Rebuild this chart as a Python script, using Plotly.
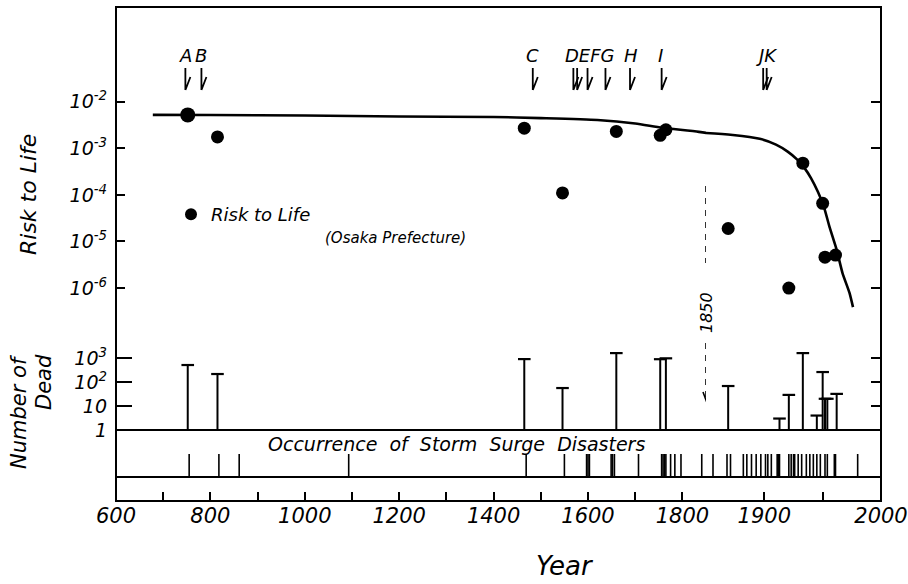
import plotly.graph_objects as go

# ---- data ---------------------------------------------------------------
# Storm-surge disasters with an estimated risk to life (Osaka Prefecture)
risk_years = [752, 815, 1465, 1546, 1660, 1753, 1765, 1869, 1921, 1933, 1950, 1952, 1961]
risk_values = [5.2e-3, 1.75e-3, 2.7e-3, 1.1e-4, 2.3e-3, 1.9e-3, 2.5e-3,
               1.9e-5, 1.0e-6, 4.8e-4, 6.6e-5, 4.6e-6, 5.1e-6]

# Smoothed trend of the risk to life
trend_years = [678, 800, 1000, 1200, 1400, 1500, 1620, 1700, 1757, 1835, 1873,
               1896, 1910, 1920, 1928, 1934, 1940, 1946, 1951, 1956, 1962, 1967, 1973, 1976]
trend_values = [5.2e-3, 5.18e-3, 5.05e-3, 4.8e-3, 4.7e-3, 4.45e-3, 4.05e-3, 3.4e-3,
                2.75e-3, 2.25e-3, 1.93e-3, 1.6e-3, 1.2e-3, 8.5e-4, 5.8e-4, 3.9e-4,
                2.3e-4, 1.15e-4, 5.6e-5, 2.0e-5, 6.6e-6, 2.1e-6, 7.9e-7, 3.9e-7]

# Number of dead per disaster
dead_years = [752, 815, 1465, 1546, 1660, 1753, 1765, 1869, 1913, 1921, 1933,
              1945, 1950, 1952, 1954, 1962]
dead_counts = [510, 215, 900, 56, 1600, 890, 970, 68, 3, 29, 1600, 4, 260, 20, 20, 32]

# Years in which a storm-surge disaster occurred
occurrence_years = [755, 818, 861, 1093, 1469, 1550, 1597, 1600, 1603, 1649, 1652, 1656,
                    1707, 1756, 1759, 1762, 1765, 1775, 1784, 1797, 1841, 1856, 1868,
                    1871, 1882, 1885, 1889, 1893, 1897, 1901, 1903, 1906, 1911, 1912,
                    1913, 1921, 1923, 1925, 1926, 1929, 1932, 1936, 1939, 1942, 1945,
                    1948, 1952, 1954, 1960, 1961, 1980]

# Lettered events marked by arrows at the top
event_years = [747, 781, 1483, 1569, 1577, 1599, 1637, 1689, 1756, 1899, 1902]
event_labels = ["A", "B", "C", "DEFG", "H", "I", "JK"]
event_label_years = [747, 781, 1483, 1604, 1691, 1754, 1902]

# Time axis: compressed before 1850, stretched afterwards
break_year = 1850
early_ticks = list(range(600, 1801, 100))
early_ticktext = [str(t) if t % 200 == 0 else "" for t in early_ticks]
late_ticks = [1850, 1900, 1950, 2000]
late_ticktext = ["", "1900", "", "2000"]

risk_ticks = [1e-2, 1e-3, 1e-4, 1e-5, 1e-6]
risk_ticktext = ["10<sup>-2</sup>", "10<sup>-3</sup>", "10<sup>-4</sup>",
                 "10<sup>-5</sup>", "10<sup>-6</sup>"]
dead_ticks = [1, 10, 100, 1000]
dead_ticktext = ["1", "10", "10<sup>2</sup>", "10<sup>3</sup>"]

# ---- layout geometry ----------------------------------------------------
W, H = 908, 584
ML, MR, MT, MB = 116, 27, 7, 83
PH = H - MT - MB


def py(px):
    """Paper y fraction for a pixel row inside the plot area."""
    return (H - MB - px) / PH


def px_x(px):
    return (px - ML) / (W - ML - MR)


SPLIT = px_x(706)
FONT = "DejaVu Sans"
INK = "black"


def ifont(size):
    return dict(family=FONT, size=size, color=INK, style="italic")


risk_dom = [py(340), 1.0]
dead_dom = [py(430), py(340)]
occ_dom = [py(477), py(454)]

fig = go.Figure()

cols = [
    # (occurrence x/y, risk x/y, dead x/y)
    ("x", "y", "x3", "y3", "x5", "y5"),
    ("x2", "y2", "x4", "y4", "x6", "y6"),
]

for i, (ox, oy, rx, ry, dx, dy) in enumerate(cols):
    # risk trend curve
    fig.add_trace(go.Scatter(
        x=trend_years, y=trend_values, xaxis=rx, yaxis=ry, mode="lines",
        line=dict(color=INK, width=2.6, shape="spline", smoothing=0.6),
        showlegend=False, hoverinfo="skip"))
    # risk points
    fig.add_trace(go.Scatter(
        x=risk_years, y=risk_values, xaxis=rx, yaxis=ry, mode="markers",
        marker=dict(color=INK, opacity=1, line=dict(width=0),
                    size=[15] + [13] * (len(risk_years) - 1)),
        name="Risk to Life", showlegend=(i == 0)))

    # number of dead: stems from 1 up to the count, with a cap on top
    sx, sy = [], []
    for yr, n in zip(dead_years, dead_counts):
        sx += [yr, yr, None]
        sy += [1, n, None]
    fig.add_trace(go.Scatter(
        x=sx, y=sy, xaxis=dx, yaxis=dy, mode="lines",
        line=dict(color=INK, width=2), showlegend=False, hoverinfo="skip"))
    fig.add_trace(go.Scatter(
        x=dead_years, y=dead_counts, xaxis=dx, yaxis=dy, mode="markers",
        marker=dict(symbol="line-ew", size=9, line=dict(color=INK, width=2.2)),
        showlegend=False))

    # occurrence ticks
    ox_, oy_ = [], []
    for yr in occurrence_years:
        ox_ += [yr, yr, None]
        oy_ += [0, 1, None]
    fig.add_trace(go.Scatter(
        x=ox_, y=oy_, xaxis=ox, yaxis=oy, mode="lines",
        line=dict(color=INK, width=1.6), showlegend=False, hoverinfo="skip"))

xdom = [[0, SPLIT], [SPLIT, 1]]
hidden_x = dict(visible=False, showgrid=False, zeroline=False, automargin=False)
common = dict(showline=False, showgrid=False, zeroline=False, automargin=False,
              tickcolor=INK, tickwidth=2)

layout = dict(
    template="none",
    width=W, height=H, margin=dict(l=ML, r=MR, t=MT, b=MB, autoexpand=False),
    paper_bgcolor="white", plot_bgcolor="white",
    showlegend=True,
    legend=dict(x=px_x(171), y=py(196), xanchor="left", yanchor="top",
                font=ifont(18), bgcolor="rgba(0,0,0,0)", itemsizing="constant"),
    # bottom time axes
    xaxis=dict(domain=xdom[0], range=[600, break_year], anchor="free", position=0,
               tickvals=early_ticks, ticktext=early_ticktext, ticks="inside",
               ticklen=9, tickfont=ifont(21), **common),
    xaxis2=dict(domain=xdom[1], range=[break_year, 2000], anchor="free", position=0,
                tickvals=late_ticks, ticktext=late_ticktext, ticks="inside",
                ticklen=9, tickfont=ifont(21), **common),
    xaxis3=dict(domain=xdom[0], range=[600, break_year], anchor="y3", **hidden_x),
    xaxis4=dict(domain=xdom[1], range=[break_year, 2000], anchor="y4", **hidden_x),
    xaxis5=dict(domain=xdom[0], range=[600, break_year], anchor="y5", **hidden_x),
    xaxis6=dict(domain=xdom[1], range=[break_year, 2000], anchor="y6", **hidden_x),
    # occurrence band
    yaxis=dict(domain=occ_dom, range=[0, 1], anchor="x", visible=False),
    yaxis2=dict(domain=occ_dom, range=[0, 1], anchor="x2", visible=False),
    # risk to life
    yaxis3=dict(domain=risk_dom, type="log", range=[-7.114, 0.032], anchor="x3",
                tickvals=risk_ticks, ticktext=risk_ticktext, ticks="inside",
                ticklen=9, tickfont=ifont(19), ticklabelstandoff=8, **common),
    yaxis4=dict(domain=risk_dom, type="log", range=[-7.114, 0.032], anchor="x4",
                side="right", tickvals=risk_ticks, showticklabels=False, ticks="inside",
                ticklen=10, **common),
    # number of dead
    yaxis5=dict(domain=dead_dom, type="log", range=[0, 3.75], anchor="x5",
                tickvals=dead_ticks, ticktext=dead_ticktext, ticks="inside",
                ticklen=16, tickfont=ifont(19), ticklabelstandoff=8, **common),
    yaxis6=dict(domain=dead_dom, type="log", range=[0, 3.75], anchor="x6",
                side="right", tickvals=dead_ticks, showticklabels=False, ticks="inside",
                ticklen=10, **common),
)
fig.update_layout(**layout)

# ---- frame --------------------------------------------------------------
shapes = [
    dict(type="rect", xref="paper", yref="paper", x0=0, x1=1, y0=0, y1=1,
         line=dict(color=INK, width=2)),
    dict(type="line", xref="paper", yref="paper", x0=0, x1=1, y0=py(430), y1=py(430),
         line=dict(color=INK, width=2)),
    dict(type="line", xref="paper", yref="paper", x0=0, x1=1, y0=py(477), y1=py(477),
         line=dict(color=INK, width=2)),
]

# event arrows (vertical stroke with one barb, tip at the bottom)
for yr in event_years:
    xref = "x3" if yr < break_year else "x4"
    shapes.append(dict(type="path", xref=xref, yref="paper",
                       xsizemode="pixel", ysizemode="pixel",
                       xanchor=yr, yanchor=py(90),
                       path="M0,0 L0,22 M0,0 L5,13",
                       line=dict(color=INK, width=1.8)))

# 1850 marker: dashed line with an arrow head
shapes += [
    dict(type="line", xref="x3", yref="paper", x0=break_year, x1=break_year,
         y0=py(186), y1=py(263), line=dict(color=INK, width=1.6, dash="6px,6px")),
    dict(type="line", xref="x3", yref="paper", x0=break_year, x1=break_year,
         y0=py(343), y1=py(398), line=dict(color=INK, width=1.6, dash="6px,6px")),
    dict(type="path", xref="x3", yref="paper", xsizemode="pixel", ysizemode="pixel",
         xanchor=break_year, yanchor=py(400), path="M-3,8 L0,0 L3,7",
         line=dict(color=INK, width=1.6)),
]
fig.update_layout(shapes=shapes)

# ---- text ---------------------------------------------------------------
ann = []
for lab, yr in zip(event_labels, event_label_years):
    ann.append(dict(text=lab, x=yr, y=py(55), xref="x3" if yr < break_year else "x4",
                    yref="paper", xanchor="center", yanchor="middle",
                    showarrow=False, font=ifont(18)))


def paper_text(text, x, y, size, angle=0):
    return dict(text=text, x=px_x(x), y=py(y), xref="paper", yref="paper",
                xanchor="center", yanchor="middle",
                showarrow=False, textangle=angle, font=ifont(size))


ann += [
    dict(text="1850", x=break_year, y=py(313), xref="x3", yref="paper", showarrow=False,
         xanchor="center", yanchor="middle", textangle=-90, font=ifont(16)),
    paper_text("(Osaka Prefecture)", 395, 238, 15),
    paper_text("Occurrence  of  Storm  Surge  Disasters", 456, 444, 19),
    paper_text("Risk to Life", 28, 195, 22, -90),
    paper_text("Number of", 19, 412, 21, -90),
    paper_text("Dead", 44, 382, 21, -90),
    paper_text("Year", 565, 566, 26),
]
fig.update_layout(annotations=ann)

fig.write_html("out.html")
